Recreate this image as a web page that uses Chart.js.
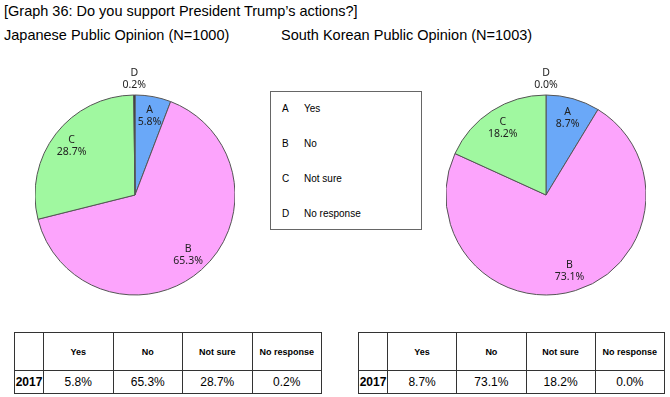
<!DOCTYPE html>
<html>
<head>
<meta charset="utf-8">
<script src="https://cdn.jsdelivr.net/npm/chart.js@4/dist/chart.umd.min.js"></script>
<style>
  body{margin:0;background:#fff;width:670px;height:397px;overflow:hidden;position:relative;font-family:"Liberation Sans",Arial,sans-serif;color:#000}
  .txt{position:absolute;font-size:14.5px;line-height:17px;white-space:nowrap}
  .pie{position:absolute;width:200px;height:260px}
  .legend-box{position:absolute;left:270px;top:91px;width:150px;height:137px;border:1px solid #666}
  .legend-row{position:absolute;left:0;font-size:10px;line-height:12px}
  .legend-row span{position:absolute;white-space:nowrap}
  table{position:absolute;border-collapse:collapse;table-layout:fixed}
  td{border:1px solid #333;text-align:center;padding:0}
  tr.h td{height:37px;font-size:9px;font-weight:bold}
  tr.d td{height:22px;font-size:12px}
  tr.d td.y{font-weight:bold}
</style>
</head>
<body>
<div class="txt" style="left:4px;top:3px">[Graph 36: Do you support President Trump’s actions?]</div>
<div class="txt" style="left:4px;top:27px">Japanese Public Opinion (N=1000)</div>
<div class="txt" style="left:281px;top:27px">South Korean Public Opinion (N=1003)</div>

<div class="pie" style="left:35px;top:65px"><canvas id="jp"></canvas></div>
<div class="pie" style="left:446px;top:65px"><canvas id="kr"></canvas></div>
<div class="legend-box" id="legend"></div>
<table id="tjp" style="left:14px;top:332px;width:308px"></table>
<table id="tkr" style="left:358px;top:332px;width:307px"></table>

<script>
const LETTERS=['A','B','C','D']
const NAMES=['Yes','No','Not sure','No response']
const YEAR='2017'
const JP=[5.8,65.3,28.7,0.2]
const KR=[8.7,73.1,18.2,0.0]
const COLORS=['#6aa8f8','#fca4fc','#a0f8a0','#222222']

const fmt=v=>v.toFixed(1)+'%'

// two-line "letter / percent" labels inside each slice, outside for tiny ones
const pieLabels={
  id:'pieLabels',
  afterDatasetsDraw(chart){
    const ctx=chart.ctx
    const vals=chart.data.datasets[0].data
    ctx.save()
    ctx.fillStyle='#222'
    ctx.font='10.5px "Noto Sans", sans-serif'
    ctx.textAlign='center'
    ctx.textBaseline='middle'
    chart.getDatasetMeta(0).data.forEach((arc,i)=>{
      const {x,y,startAngle,endAngle,outerRadius}=arc.getProps(['x','y','startAngle','endAngle','outerRadius'],true)
      const mid=(startAngle+endAngle)/2
      const r=vals[i]<1?outerRadius+16:outerRadius*0.8
      const lx=x+Math.cos(mid)*r,ly=y+Math.sin(mid)*r
      ctx.fillText(LETTERS[i],lx,ly-6)
      ctx.fillText(fmt(vals[i]),lx,ly+6)
    })
    ctx.restore()
  }
}

function pie(id,data){
  new Chart(document.getElementById(id),{type:'pie',
    data:{labels:LETTERS,datasets:[{data,backgroundColor:COLORS,borderColor:'#555',borderWidth:1,radius:100}]},
    options:{responsive:true,maintainAspectRatio:false,animation:false,layout:{padding:0},
      plugins:{legend:{display:false},tooltip:{enabled:false}}},
    plugins:[pieLabels]})
}
pie('jp',JP)
pie('kr',KR)

document.getElementById('legend').innerHTML=LETTERS.map((l,i)=>
  `<div class="legend-row" style="top:${11+i*35}px"><span style="left:11px">${l}</span><span style="left:33px">${NAMES[i]}</span></div>`).join('')

function table(id,vals){
  document.getElementById(id).innerHTML=
    `<colgroup><col style="width:29px">${NAMES.map(()=>'<col>').join('')}</colgroup>`+
    `<tr class="h"><td></td>${NAMES.map(n=>`<td>${n}</td>`).join('')}</tr>`+
    `<tr class="d"><td class="y">${YEAR}</td>${vals.map(v=>`<td>${fmt(v)}</td>`).join('')}</tr>`
}
table('tjp',JP)
table('tkr',KR)
</script>
</body>
</html>
